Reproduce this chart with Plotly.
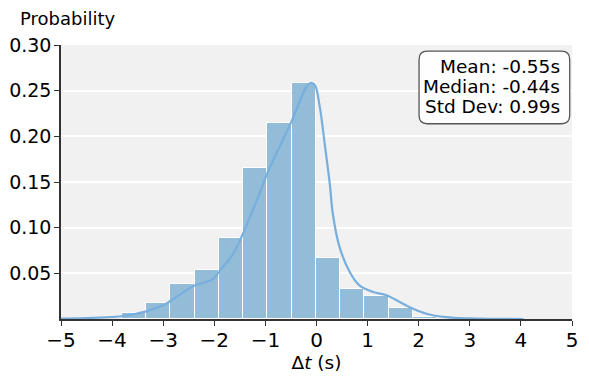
import plotly.graph_objects as go

# histogram (13 bins, probability per bin)
bin_start = -3.81
bin_width = 0.4746
bin_probs = [0.007, 0.017, 0.038, 0.054, 0.089, 0.165, 0.215, 0.258,
             0.067, 0.033, 0.025, 0.0124, 0.002]

# smoothed density curve, scaled to bin probability
kde_x = [-5.0, -4.5, -4.0, -3.81, -3.33, -3.0, -2.84, -2.41, -2.02, -1.89,
         -1.63, -1.17, -0.94, -0.71, -0.48, -0.33, -0.2, -0.11, -0.03, 0.065,
         0.16, 0.26, 0.32, 0.45, 0.65, 0.84, 1.11, 1.37, 1.63, 1.89, 2.15,
         2.54, 3.0, 3.5, 4.05]
kde_y = [0.0005, 0.001, 0.0022, 0.003, 0.0084, 0.015, 0.0205, 0.036, 0.044,
         0.053, 0.0715, 0.1297, 0.1626, 0.19, 0.2175, 0.2376, 0.254, 0.2584,
         0.2558, 0.232, 0.192, 0.148, 0.115, 0.079, 0.0515, 0.0369, 0.0296,
         0.026, 0.0186, 0.0113, 0.0058, 0.002, 0.0006, 0.0002, 0.0]

stats = ["Mean: -0.55s", "Median: -0.44s", "Std Dev: 0.99s"]

x_ticks = [-5, -4, -3, -2, -1, 0, 1, 2, 3, 4, 5]
y_ticks = [0.05, 0.10, 0.15, 0.20, 0.25, 0.30]

centers = [bin_start + (i + 0.5) * bin_width for i in range(len(bin_probs))]

FONT = "DejaVu Sans"

fig = go.Figure()
fig.add_trace(go.Bar(
    x=centers, y=bin_probs, width=[bin_width] * len(bin_probs),
    marker=dict(color="#93bcd9", line=dict(color="white", width=1)),
    hoverinfo="skip",
))
fig.add_trace(go.Scatter(
    x=kde_x, y=kde_y, mode="lines", line=dict(color="#78aedc", width=2.2, shape="spline"),
    hoverinfo="skip",
))

# page body has an 8px margin, so the figure is sized to fit the window
fig.update_layout(
    width=581, height=372,
    margin=dict(l=53, r=17, t=37, b=61),
    paper_bgcolor="white", plot_bgcolor="#f1f1f1",
    showlegend=False, bargap=0,
    font=dict(family=FONT, size=20, color="black"),
)
fig.update_xaxes(
    range=[-5, 5], tickvals=x_ticks,
    ticktext=[str(v).replace("-", "\u2212") for v in x_ticks],
    showgrid=False, zeroline=False, automargin=False,
    showline=True, linecolor="#333333", linewidth=1.5,
    ticks="outside", ticklen=5, tickcolor="#333333", tickwidth=1.2,
    ticklabelstandoff=-3,
    title=dict(text="\u0394<i>t</i> (s)", font=dict(size=18.5), standoff=0),
)
fig.update_yaxes(
    range=[0, 0.30], tickvals=y_ticks, ticktext=[f"{v:.2f}" for v in y_ticks],
    tickfont=dict(size=19),
    showgrid=True, gridcolor="white", gridwidth=1.5, zeroline=False, automargin=False,
    showline=True, linecolor="#333333", linewidth=1.5,
    ticks="outside", ticklen=5, tickcolor="#333333", tickwidth=1.2,
    ticklabelstandoff=-1,
)

fig.add_annotation(text="Probability", xref="paper", yref="paper",
                   x=(18 - 61) / 511.2, y=(318.7 - 18) / 274.2, xanchor="left", yanchor="middle",
                   showarrow=False, font=dict(size=18))

# rounded stats box
x0, x1, y0, y1 = 0.7007, 0.9955, 0.7126, 0.9774
rx, ry = 0.016, 0.03
path = (f"M {x0+rx} {y1} L {x1-rx} {y1} Q {x1} {y1} {x1} {y1-ry} "
        f"L {x1} {y0+ry} Q {x1} {y0} {x1-rx} {y0} L {x0+rx} {y0} "
        f"Q {x0} {y0} {x0} {y0+ry} L {x0} {y1-ry} Q {x0} {y1} {x0+rx} {y1} Z")
fig.add_shape(type="path", path=path, xref="paper", yref="paper",
              line=dict(color="#555555", width=1.3), fillcolor="rgba(255,255,255,0.9)")
for i, s in enumerate(stats):
    py = 66 + i * 20
    fig.add_annotation(text=s, xref="paper", yref="paper",
                       x=0.9798, y=(318.7 - py) / 274.2, xanchor="right", yanchor="middle",
                       showarrow=False, font=dict(size=18.5))

fig.write_html("out.html")
